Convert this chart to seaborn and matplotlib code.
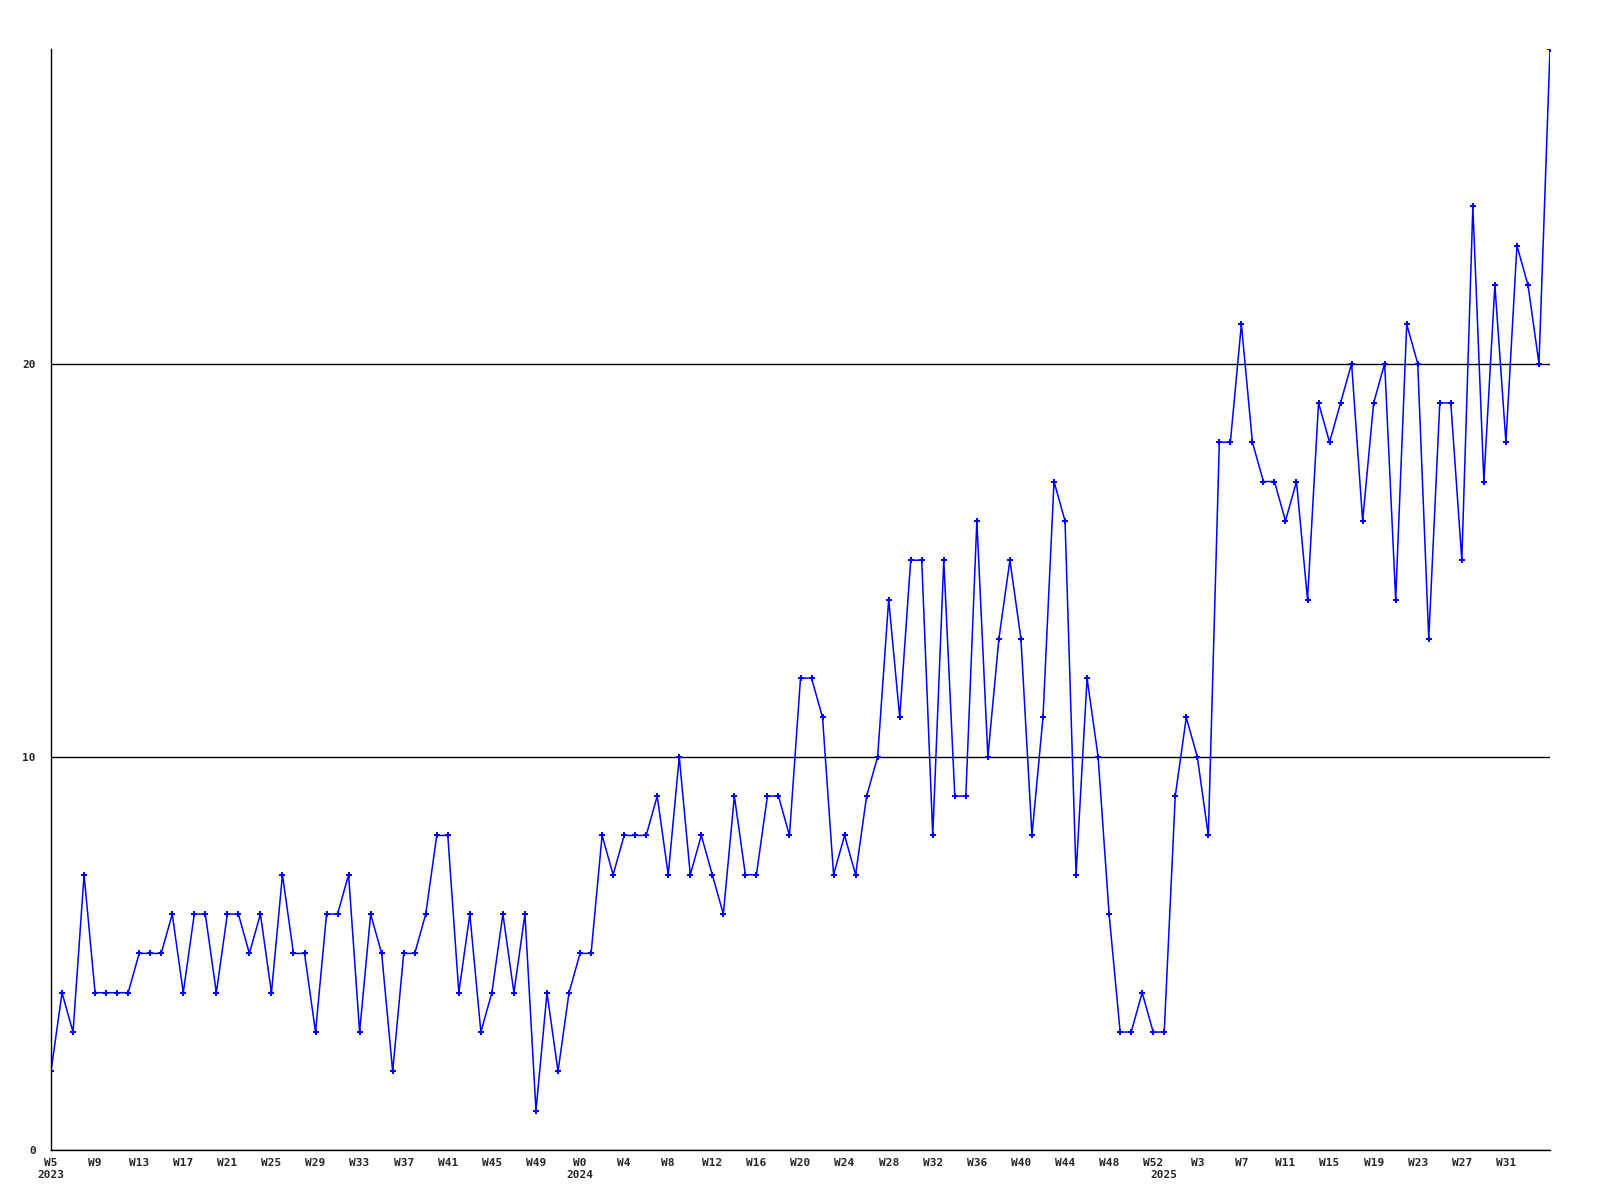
import numpy as np
import pandas as pd
import matplotlib
matplotlib.use("Agg")
import matplotlib.pyplot as plt
import matplotlib.transforms as mtransforms
import seaborn as sns

# weekly counts, 2023 W5 .. 2025 W35
counts = [
    2, 4, 3, 7, 4, 4, 4, 4, 5, 5,
    5, 6, 4, 6, 6, 4, 6, 6, 5, 6,
    4, 7, 5, 5, 3, 6, 6, 7, 3, 6,
    5, 2, 5, 5, 6, 8, 8, 4, 6, 3,
    4, 6, 4, 6, 1, 4, 2, 4, 5, 5,
    8, 7, 8, 8, 8, 9, 7, 10, 7, 8,
    7, 6, 9, 7, 7, 9, 9, 8, 12, 12,
    11, 7, 8, 7, 9, 10, 14, 11, 15, 15,
    8, 15, 9, 9, 16, 10, 13, 15, 13, 8,
    11, 17, 16, 7, 12, 10, 6, 3, 3, 4,
    3, 3, 9, 11, 10, 8, 18, 18, 21, 18,
    17, 17, 16, 17, 14, 19, 18, 19, 20, 16,
    19, 20, 14, 21, 20, 13, 19, 19, 15, 24,
    17, 22, 18, 23, 22, 20, 28,
]

# week numbers per year, as on the x axis
years = [2023, 2024, 2025]
weeks_2023 = list(range(5, 53))
weeks_2024 = list(range(0, 53))
weeks_2025 = list(range(0, 36))
y_ticks = [0, 10, 20]

week_nums = weeks_2023 + weeks_2024 + weeks_2025
year_of = [2023] * len(weeks_2023) + [2024] * len(weeks_2024) + [2025] * len(weeks_2025)

df = pd.DataFrame({
    "idx": np.arange(len(counts)),
    "count": counts,
    "week": [f"W{w}" for w in week_nums],
    "year": year_of,
})

sns.set_style("white")
plt.rcParams["font.family"] = ["DejaVu Sans Mono"]

fig = plt.figure(figsize=(16, 12), dpi=100)
ax = fig.add_axes([51 / 1600, 1 - 1150 / 1200, 1499 / 1600, 1101 / 1200])

sns.lineplot(data=df, x="idx", y="count", ax=ax, color="#0000ff", linewidth=1.1,
             marker="P", markersize=3.8, markeredgewidth=0, markerfacecolor="#0000ff")

ax.set_xlim(0, len(counts) - 1)
ax.set_ylim(0, 28)

ax.set_yticks(y_ticks)
ax.set_yticklabels([str(t) for t in y_ticks], fontsize=8, fontweight="bold")
ax.yaxis.grid(True, color="black", linewidth=1)
ax.xaxis.grid(False)

# every 4th week labelled, last one left out as in the original
labelled = df.iloc[::4]
labelled = labelled[labelled["idx"] < len(counts) - 1]
ax.set_xticks(labelled["idx"])
ax.set_xticklabels(labelled["week"], fontsize=8, fontweight="bold")
ax.tick_params(axis="both", length=0)
ax.tick_params(axis="y", pad=11)
ax.tick_params(axis="x", pad=6)

# year labels under the first week of each year
trans = mtransforms.blended_transform_factory(ax.transData, ax.transAxes)
for yr in years:
    first = df.loc[df["year"] == yr, "idx"].iloc[0]
    ax.text(first, -0.0185, str(yr), transform=trans, ha="center", va="top",
            fontsize=8, fontweight="bold")

ax.set_xlabel("")
ax.set_ylabel("")
for side in ["top", "right"]:
    ax.spines[side].set_visible(False)
for side in ["left", "bottom"]:
    ax.spines[side].set_color("black")
    ax.spines[side].set_linewidth(1)

fig.savefig("out.png", dpi=100, facecolor="white")
